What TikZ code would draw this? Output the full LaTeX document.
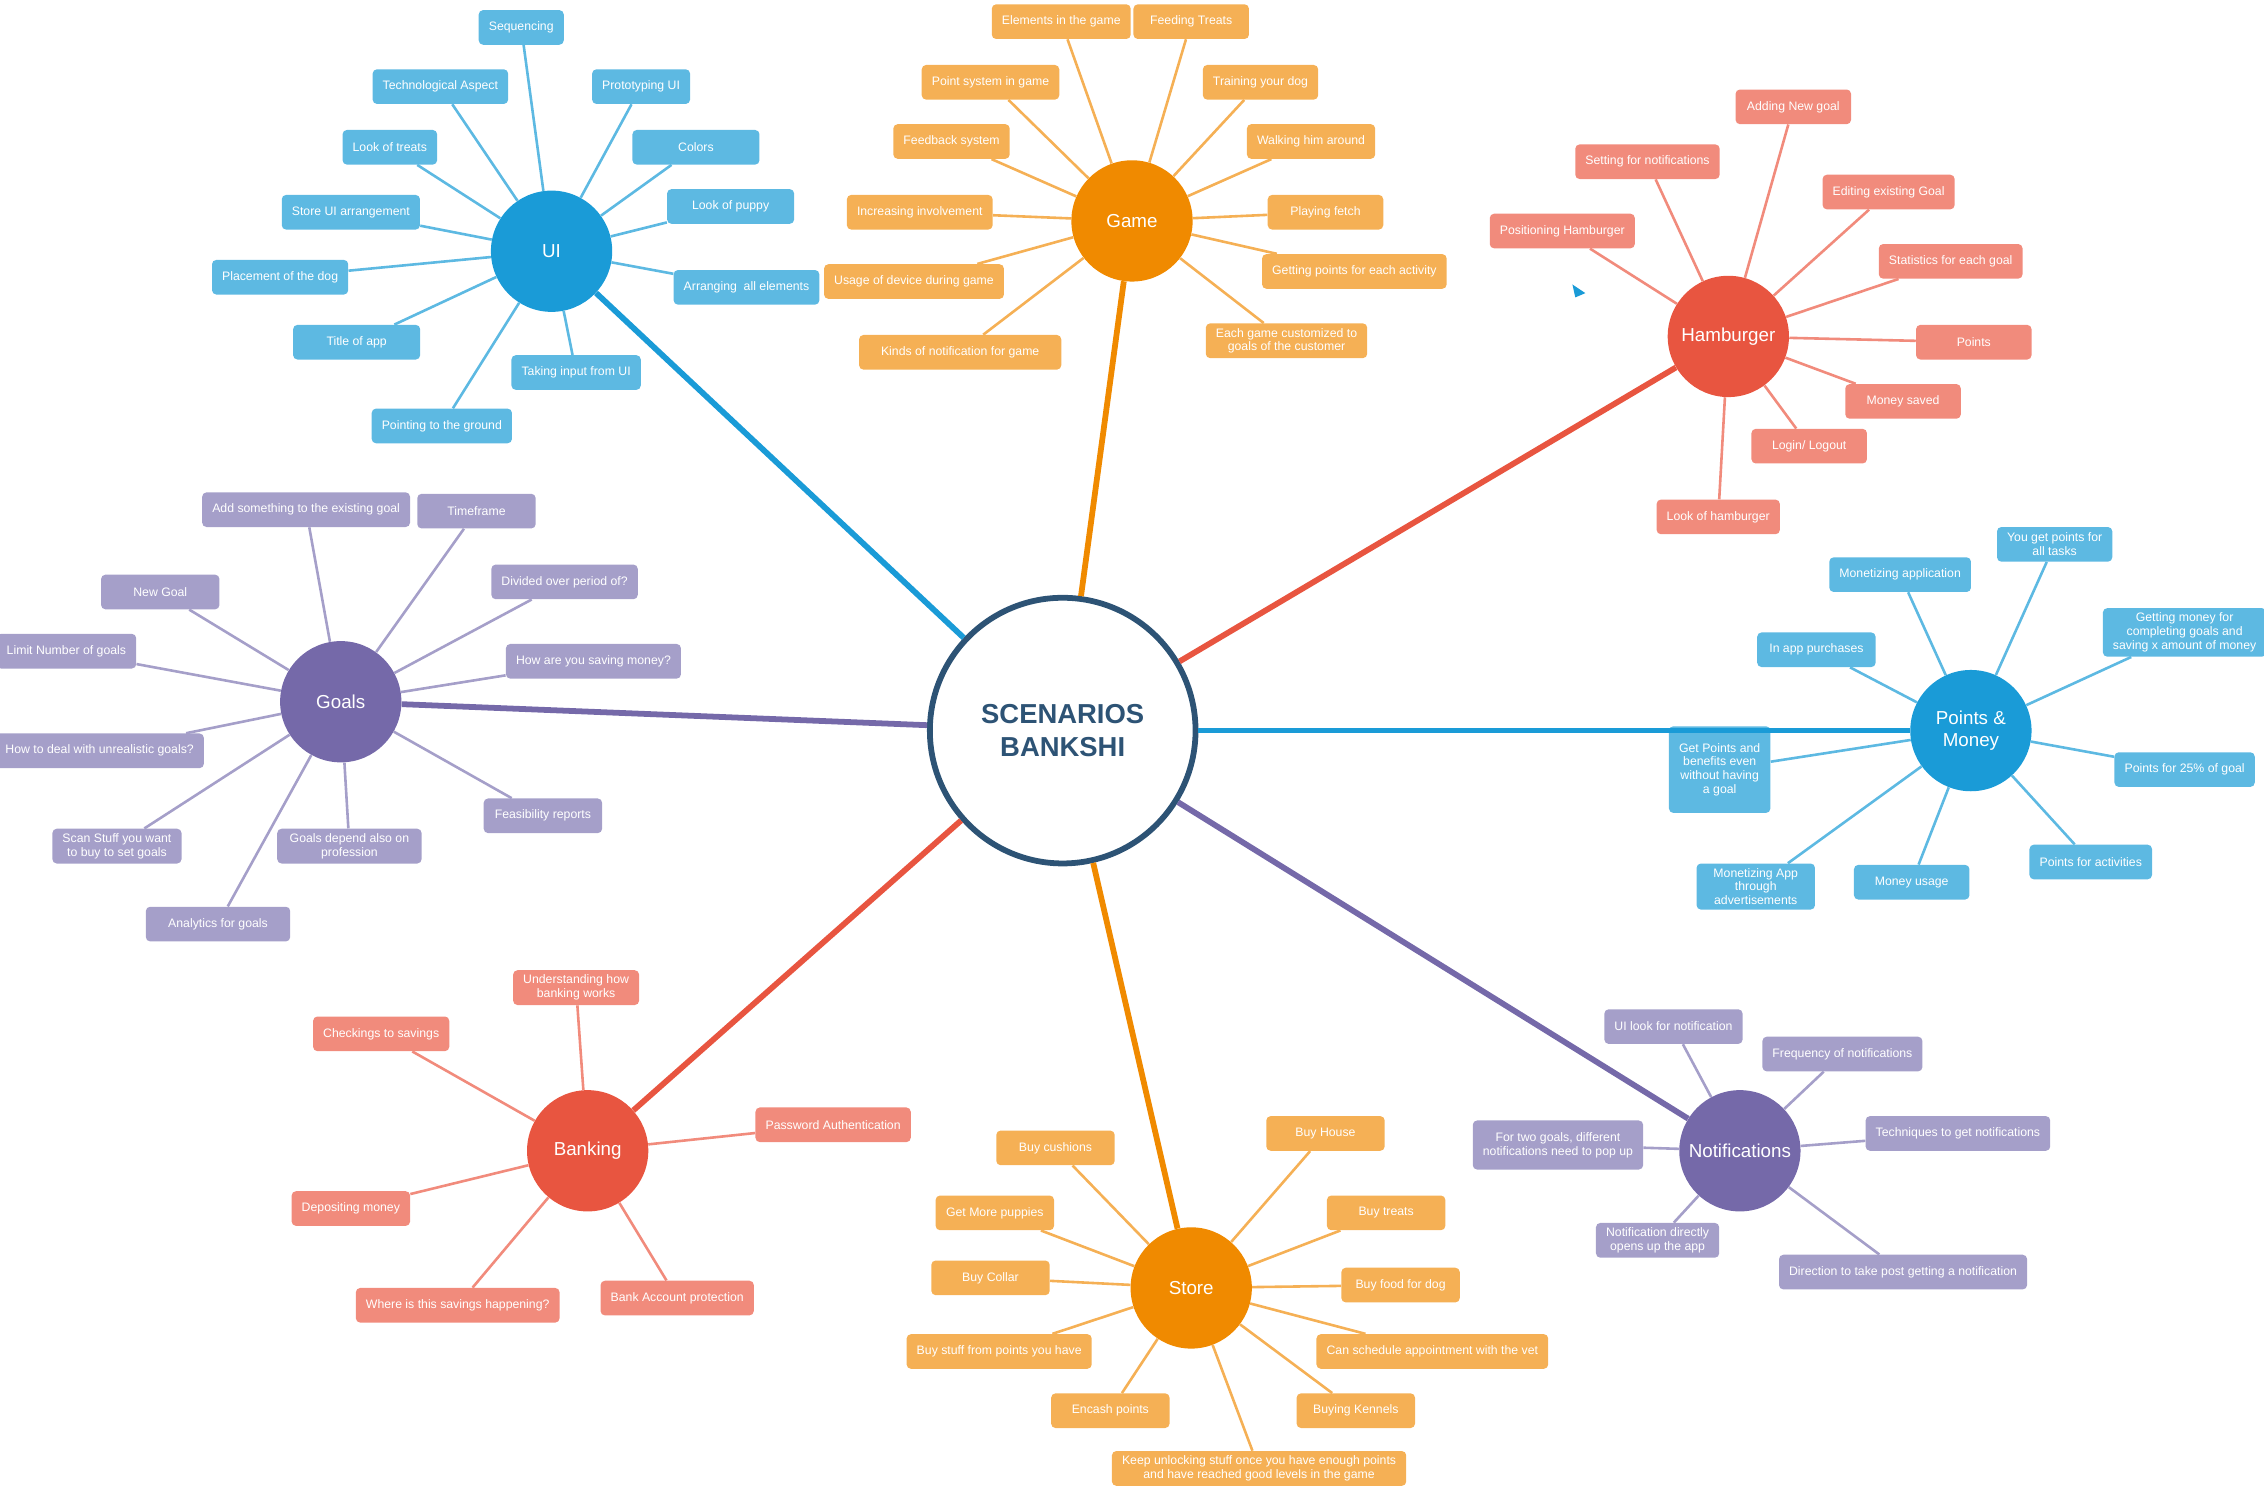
\documentclass[tikz,border=0pt]{standalone}
\usepackage{fontspec}
\setmainfont{Liberation Sans}
\definecolor{uihub}{HTML}{1A9BD7}
\definecolor{uileaf}{HTML}{5DB9E2}
\definecolor{gamehub}{HTML}{F08A00}
\definecolor{gameleaf}{HTML}{F5B055}
\definecolor{hamhub}{HTML}{E85540}
\definecolor{hamleaf}{HTML}{F18B7C}
\definecolor{goalhub}{HTML}{7569A9}
\definecolor{goalleaf}{HTML}{A59FC9}
\definecolor{centreline}{HTML}{2D5375}
\tikzset{
  leaf/.style={draw=none, rounded corners=3pt, text=white, minimum height=24pt,
    inner xsep=7pt, align=center, font=\fontsize{8.5}{9.5}\selectfont},
  hub/.style={circle, minimum size=84pt, text=white, font=\fontsize{13}{15}\selectfont, align=center},
  twig/.style={line width=1.8pt},
  limb/.style={line width=4pt}
}
\begin{document}
\begin{tikzpicture}[x=1pt,y=-1pt]
\useasboundingbox (0,0) rectangle (1568,1033);

\node[circle, draw=centreline, line width=4pt, fill=white, minimum size=184pt, text=centreline,
      font=\fontsize{19}{23}\selectfont\bfseries, align=center] (c) at (736,506) {SCENARIOS\\BANKSHI};

% UI
\node[hub, fill=uihub] (ui) at (382,174) {UI};
\begin{scope}[every node/.style={leaf, fill=uileaf}]
\node (u1) at (361,19) {Sequencing};
\node (u2) at (305,60) {Technological Aspect};
\node (u3) at (444,60) {Prototyping UI};
\node (u4) at (270,102) {Look of treats};
\node[minimum width=88pt] (u5) at (482,102) {Colors};
\node[minimum width=88pt] (u6) at (506,143) {Look of puppy};
\node (u7) at (243,147) {Store UI arrangement};
\node[minimum width=88pt] (u8) at (194,192) {Placement of the dog};
\node (u9) at (517,199) {Arranging\ \ all elements};
\node[minimum width=88pt] (u10) at (247,237) {Title of app};
\node (u11) at (399,258) {Taking input from UI};
\node (u12) at (306,295) {Pointing to the ground};
\end{scope}
\foreach \i in {1,...,12} \draw[twig, uileaf] (ui) -- (u\i);

% Game
\node[hub, fill=gamehub] (game) at (784,153) {Game};
\begin{scope}[every node/.style={leaf, fill=gameleaf}]
\node (g1) at (735,15) {Elements in the game};
\node[minimum width=80pt] (g2) at (825,15) {Feeding Treats};
\node (g3) at (686,57) {Point system in game};
\node (g4) at (873,57) {Training your dog};
\node[minimum width=80pt] (g5) at (659,98) {Feedback system};
\node (g6) at (908,98) {Walking him around};
\node[minimum width=98pt] (g7) at (637,147) {Increasing involvement};
\node[minimum width=80pt] (g8) at (918,147) {Playing fetch};
\node (g9) at (633,195) {Usage of device during game};
\node (g10) at (938,188) {Getting points for each activity};
\node[minimum width=140pt] (g11) at (665,244) {Kinds of notification for game};
\node (g12) at (891,236) {Each game customized to\\goals of the customer};
\end{scope}
\foreach \i in {1,...,12} \draw[twig, gameleaf] (game) -- (g\i);

% Hamburger
\node[hub, fill=hamhub] (ham) at (1197,233) {Hamburger};
\begin{scope}[every node/.style={leaf, fill=hamleaf}]
\node[minimum width=80pt] (h1) at (1242,74) {Adding New goal};
\node (h2) at (1141,112) {Setting for notifications};
\node (h3) at (1308,133) {Editing existing Goal};
\node (h4) at (1082,160) {Positioning Hamburger};
\node (h5) at (1351,181) {Statistics for each goal};
\node[minimum width=80pt] (h6) at (1367,237) {Points};
\node[minimum width=80pt] (h7) at (1318,278) {Money saved};
\node[minimum width=80pt] (h8) at (1253,309) {Login/ Logout};
\node (h9) at (1190,358) {Look of hamburger};
\end{scope}
\foreach \i in {1,...,9} \draw[twig, hamleaf] (ham) -- (h\i);
\fill[uihub] (1089,197) -- (1098,203) -- (1091,206) -- cycle;

% Goals
\node[hub, fill=goalhub] (goal) at (236,486) {Goals};
\begin{scope}[every node/.style={leaf, fill=goalleaf}]
\node (o1) at (212,353) {Add something to the existing goal};
\node[minimum width=82pt] (o2) at (330,354) {Timeframe};
\node (o3) at (391,403) {Divided over period of?};
\node[minimum width=82pt] (o4) at (111,410) {New Goal};
\node (o5) at (46,451) {Limit Number of goals};
\node (o6) at (411,458) {How are you saving money?};
\node (o7) at (69,520) {How to deal with unrealistic goals?};
\node[minimum width=82pt] (o8) at (376,565) {Feasibility reports};
\node (o9) at (81,586) {Scan Stuff you want\\to buy to set goals};
\node[minimum width=100pt] (o10) at (242,586) {Goals depend also on\\profession};
\node[minimum width=100pt] (o11) at (151,640) {Analytics for goals};
\end{scope}
\foreach \i in {1,...,11} \draw[twig, goalleaf] (goal) -- (o\i);

% Points & Money
\node[hub, fill=uihub] (pts) at (1365,506) {Points \&\\Money};
\begin{scope}[every node/.style={leaf, fill=uileaf}]
\node (p1) at (1423,377) {You get points for\\all tasks};
\node (p2) at (1316,398) {Monetizing application};
\node (p3) at (1513,438) {Getting money for\\completing goals and\\saving x amount of money};
\node[minimum width=82pt] (p4) at (1258,450) {In app purchases};
\node[minimum height=60pt] (p5) at (1191,533) {Get Points and\\benefits even\\without having\\a goal};
\node (p6) at (1513,533) {Points for 25\% of goal};
\node[minimum width=82pt] (p7) at (1448,597) {Points for activities};
\node[minimum width=80pt] (p8) at (1324,611) {Money usage};
\node[minimum width=82pt] (p9) at (1216,614) {Monetizing App\\through\\advertisements};
\end{scope}
\foreach \i in {1,...,9} \draw[twig, uileaf] (pts) -- (p\i);

% Banking
\node[hub, fill=hamhub] (bank) at (407,797) {Banking};
\begin{scope}[every node/.style={leaf, fill=hamleaf}]
\node (b1) at (399,684) {Understanding how\\banking works};
\node (b2) at (264,716) {Checkings to savings};
\node (b3) at (577,779) {Password Authentication};
\node[minimum width=82pt] (b4) at (243,837) {Depositing money};
\node (b5) at (469,899) {Bank Account protection};
\node (b6) at (317,904) {Where is this savings happening?};
\end{scope}
\foreach \i in {1,...,6} \draw[twig, hamleaf] (bank) -- (b\i);

% Store
\node[hub, fill=gamehub] (store) at (825,892) {Store};
\begin{scope}[every node/.style={leaf, fill=gameleaf}]
\node[minimum width=82pt] (s1) at (731,795) {Buy cushions};
\node[minimum width=82pt] (s2) at (918,785) {Buy House};
\node[minimum width=82pt] (s3) at (689,840) {Get More puppies};
\node[minimum width=82pt] (s4) at (960,840) {Buy treats};
\node[minimum width=82pt] (s5) at (686,885) {Buy Collar};
\node[minimum width=82pt] (s6) at (970,890) {Buy food for dog};
\node (s7) at (692,936) {Buy stuff from points you have};
\node (s8) at (992,936) {Can schedule appointment with the vet};
\node[minimum width=82pt] (s9) at (769,977) {Encash points};
\node[minimum width=82pt] (s10) at (939,977) {Buying Kennels};
\node (s11) at (872,1017) {Keep unlocking stuff once you have enough points\\and have reached good levels in the game};
\end{scope}
\foreach \i in {1,...,11} \draw[twig, gameleaf] (store) -- (s\i);

% Notifications
\node[hub, fill=goalhub] (note) at (1205,797) {Notifications};
\begin{scope}[every node/.style={leaf, fill=goalleaf}]
\node (n1) at (1159,711) {UI look for notification};
\node (n2) at (1276,730) {Frequency of notifications};
\node[minimum height=34pt] (n3) at (1079,793) {For two goals, different\\notifications need to pop up};
\node (n4) at (1356,785) {Techniques to get notifications};
\node (n5) at (1148,859) {Notification directly\\opens up the app};
\node (n6) at (1318,881) {Direction to take post getting a notification};
\end{scope}
\foreach \i in {1,...,6} \draw[twig, goalleaf] (note) -- (n\i);

% main limbs
\draw[limb, uihub] (c) -- (ui);
\draw[limb, gamehub] (c) -- (game);
\draw[limb, hamhub] (c) -- (ham);
\draw[limb, goalhub] (c) -- (goal);
\draw[limb, uihub] (c) -- (pts);
\draw[limb, hamhub] (c) -- (bank);
\draw[limb, gamehub] (c) -- (store);
\draw[limb, goalhub] (c) -- (note);
\end{tikzpicture}
\end{document}
